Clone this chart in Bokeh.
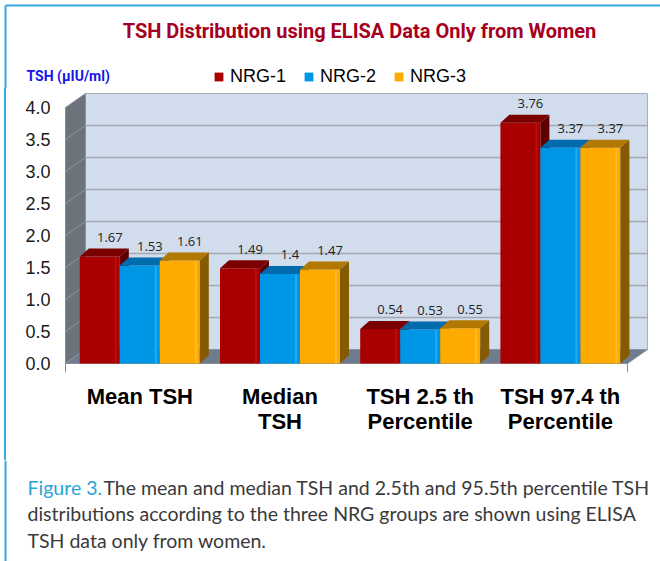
from bokeh.plotting import figure
from bokeh.layouts import column
from bokeh.models import (ColumnDataSource, FixedTicker, Legend, LegendItem,
                          Range1d, PrintfTickFormatter)
from bokeh.embed import file_html
from bokeh.resources import INLINE
from bokeh.core.properties import value

# ---------------- data ----------------
categories = ["Mean TSH", "Median\nTSH", "TSH 2.5 th\nPercentile", "TSH 97.4 th\nPercentile"]
series_names = ["NRG-1", "NRG-2", "NRG-3"]
nrg1 = [1.67, 1.49, 0.54, 3.76]
nrg2 = [1.53, 1.40, 0.53, 3.37]
nrg3 = [1.61, 1.47, 0.55, 3.37]
y_ticks = [0.0, 0.5, 1.0, 1.5, 2.0, 2.5, 3.0, 3.5, 4.0]

title_text = "TSH Distribution using ELISA Data Only from Women"
y_label_text = "TSH (\u00b5IU/ml)"
caption_head = "Figure 3."
caption_lines = ["The mean and median TSH and 2.5th and 95.5th percentile TSH",
                 "distributions according to the three NRG groups are shown using ELISA",
                 "TSH data only from women."]

# ---------------- styles ----------------
front_colors = ["#A80000", "#0096E6", "#FFAA00"]
top_colors = ["#7A0000", "#006CAE", "#B27800"]
side_colors = ["#5E0000", "#005890", "#865A00"]
light_colors = ["#C41010", "#30B4FF", "#FFC040"]
frame_blue = "#35AADD"

W = 660
HEAD_H, CHART_H, CAP_H = 88, 372, 101   # stacked: 0-88, 88-460, 460-561


def no_align(f):
    if "frame_align" in f.properties():
        f.frame_align = False
    return f


def plain_fig(h, y_top):
    f = figure(width=W, height=h, output_backend="svg", toolbar_location=None,
               x_range=Range1d(0, W), y_range=Range1d(y_top + h, y_top),
               x_axis_type=None, y_axis_type=None, min_border=0, title=None)
    f.outline_line_color = None
    f.grid.visible = False
    f.background_fill_color = "white"
    f.border_fill_color = "white"
    return no_align(f)


# ================= chart geometry =================
UX = 140.2   # pixels per category unit
UY = 64.0    # pixels per value unit
X0_IMG = 139.3  # image x of category 0
Y0_IMG = 363.0  # image y of value 0


def ix(px):
    return (px - X0_IMG) / UX


def iy(py):
    return (Y0_IMG - py) / UY


bw = 40 / UX                  # bar width
bdx, bdy = 9 / UX, 8 / UY     # bar depth
wdx, wdy = 20 / UX, 14 / UY   # wall depth
wall_l, wall_r = ix(65), ix(627)
top_v = y_ticks[-1]

series = [nrg1, nrg2, nrg3]
bar_sources = []
for j, vals in enumerate(series):
    off = (j - 1) * bw
    bar_sources.append(ColumnDataSource(dict(
        left=[i + off - bw / 2 for i in range(len(vals))],
        right=[i + off + bw / 2 for i in range(len(vals))],
        bottom=[0] * len(vals),
        top=vals)))

# ================= header: title, unit label, legend =================
head = plain_fig(HEAD_H, 0)
head.segment(x0=[5, 5], y0=[5, 5], x1=[W, 5], y1=[5, HEAD_H], line_color=frame_blue, line_width=2)
head.text(x=[359], y=[30], text=[title_text], text_align="center", text_baseline="middle",
          text_font=value("Roboto"), text_font_style="bold", text_font_size="20px",
          text_color="#A50021")
head.text(x=[26], y=[75], text=[y_label_text], text_align="left", text_baseline="middle",
          text_font=value("Roboto"), text_font_style="bold", text_font_size="14px",
          text_color="#1414E6")
# legend keys share the bar data, hidden in this panel (only their key is shown)
legend_rs = [head.quad(left="left", right="right", top="top", bottom="bottom", source=s,
                       fill_color=c, line_color=None, visible=False)
             for s, c in zip(bar_sources, front_colors)]
legend = Legend(items=[LegendItem(label=n, renderers=[r]) for n, r in zip(series_names, legend_rs)],
                orientation="horizontal", location=(213, 1), padding=0, margin=0,
                spacing=17, label_standoff=6, glyph_width=11, glyph_height=11,
                border_line_color=None, background_fill_alpha=0,
                inactive_fill_alpha=0,
                label_text_font="Liberation Sans", label_text_font_size="18px",
                label_text_color="#000000")
head.add_layout(legend)

# ================= chart =================
p = figure(width=W, height=CHART_H, output_backend="svg", toolbar_location=None,
           x_range=Range1d(ix(60), ix(652)), y_range=Range1d(iy(372), iy(HEAD_H)),
           min_border_left=60, min_border_right=8, min_border_top=0,
           min_border_bottom=HEAD_H + CHART_H - 372, title=None)
no_align(p)
p.background_fill_color = "white"
p.border_fill_alpha = 0
p.outline_line_color = None
p.xgrid.visible = False
p.ygrid.visible = False
p.styles = {"background": "linear-gradient(to right, white 4px, %s 4px, %s 6px, white 6px)"
            % (frame_blue, frame_blue)}

# walls and floor
p.quad(left=[wall_l + wdx], right=[wall_r + wdx], bottom=[wdy], top=[top_v + wdy],
       fill_color="#D1DDED", line_color="#A9AEB4", line_width=1)
p.patch([wall_l, wall_l, wall_l + wdx, wall_l + wdx], [0, top_v, top_v + wdy, wdy],
        fill_color="#6C737D", line_color="#8A9098", line_width=1)
p.patch([wall_l, wall_r, wall_r + wdx, wall_l + wdx], [0, 0, wdy, wdy],
        fill_color="#6F7C8F", line_color="#8A929C", line_width=1)

# gridlines
gt = y_ticks[1:-1]
p.segment(x0=[wall_l + wdx] * len(gt), y0=[t + wdy for t in gt],
          x1=[wall_r + wdx] * len(gt), y1=[t + wdy for t in gt],
          line_color="#A3A8AE", line_width=1.5)
p.segment(x0=[wall_l] * len(gt), y0=gt, x1=[wall_l + wdx] * len(gt), y1=[t + wdy for t in gt],
          line_color="#8E959E", line_width=1)

# front axis lines
ybot = iy(372)
p.segment(x0=[wall_l, wall_l, wall_r], y0=[0, ybot, ybot], x1=[wall_r, wall_l, wall_r],
          y1=[0, top_v, 0], line_color="#8C8C8C", line_width=1)

# bars
for j, (vals, src) in enumerate(zip(series, bar_sources)):
    lefts, rights = src.data["left"], src.data["right"]
    p.quad(left="left", right="right", bottom="bottom", top="top", source=src,
           fill_color=front_colors[j], line_color=None)
    p.segment(x0=[x - 4 / UX for x in rights], y0=[0] * len(vals),
              x1=[x - 4 / UX for x in rights], y1=vals,
              line_color=light_colors[j], line_width=2, line_alpha=0.7)
    tops_x = [[l, rr, rr + bdx, l + bdx] for l, rr in zip(lefts, rights)]
    tops_y = [[v, v, v + bdy, v + bdy] for v in vals]
    p.patches(tops_x, tops_y, fill_color=top_colors[j], line_color=None)
    side_x = [[rr, rr, rr + bdx, rr + bdx] for rr in rights]
    side_y = [[0, v, v + bdy, bdy] for v in vals]
    p.patches(side_x, side_y, fill_color=side_colors[j], line_color=None)
    lab = ColumnDataSource(dict(x=[(l + rr) / 2 + 10 / UX for l, rr in zip(lefts, rights)],
                                y=[v + 19 / UY for v in vals],
                                t=[f"{v:g}" for v in vals]))
    p.text(x="x", y="y", text="t", source=lab, text_align="center",
           text_baseline="middle", text_font=value("Open Sans"),
           text_font_size="13px", text_color="#222222")

# axes
p.yaxis.ticker = FixedTicker(ticks=y_ticks)
p.yaxis.formatter = PrintfTickFormatter(format="%.1f")
p.yaxis.axis_line_color = None
p.yaxis.major_tick_line_color = None
p.yaxis.minor_tick_line_color = None
p.yaxis.major_tick_out = 0
p.yaxis.major_tick_in = 0
p.yaxis.major_label_standoff = 10
p.yaxis.major_label_text_font = "Liberation Sans"
p.yaxis.major_label_text_font_size = "18px"
p.yaxis.major_label_text_color = "#1A1A1A"

p.xaxis.ticker = FixedTicker(ticks=list(range(len(categories))))
p.xaxis.major_label_overrides = {i: c for i, c in enumerate(categories)}
p.xaxis.axis_line_color = None
p.xaxis.major_tick_line_color = None
p.xaxis.minor_tick_line_color = None
p.xaxis.major_tick_out = 0
p.xaxis.major_tick_in = 0
p.xaxis.major_label_standoff = 11
p.xaxis.major_label_text_font = "Liberation Sans"
p.xaxis.major_label_text_font_style = "bold"
p.xaxis.major_label_text_font_size = "22px"
p.xaxis.major_label_text_color = "#000000"
p.xaxis.major_label_text_line_height = 1.03

# ================= caption =================
cap = plain_fig(CAP_H, HEAD_H + CHART_H)
cap.segment(x0=[5], y0=[HEAD_H + CHART_H], x1=[5], y1=[HEAD_H + CHART_H + CAP_H],
            line_color=frame_blue, line_width=2)
cap_font, cap_size = value("Lato"), "19.5px"
cap.text(x=[27], y=[487], text=[caption_head], text_align="left", text_baseline="middle",
         text_font=cap_font, text_font_size=cap_size, text_color="#2AA4D8")
cap.text(x=[103, 27, 27], y=[487, 513, 540], text=caption_lines, text_align="left",
         text_baseline="middle", text_font=cap_font, text_font_size=cap_size,
         text_color="#3A3A3A")

layout = column(head, p, cap, spacing=0)
open("out.html", "w").write(file_html(layout, INLINE))
